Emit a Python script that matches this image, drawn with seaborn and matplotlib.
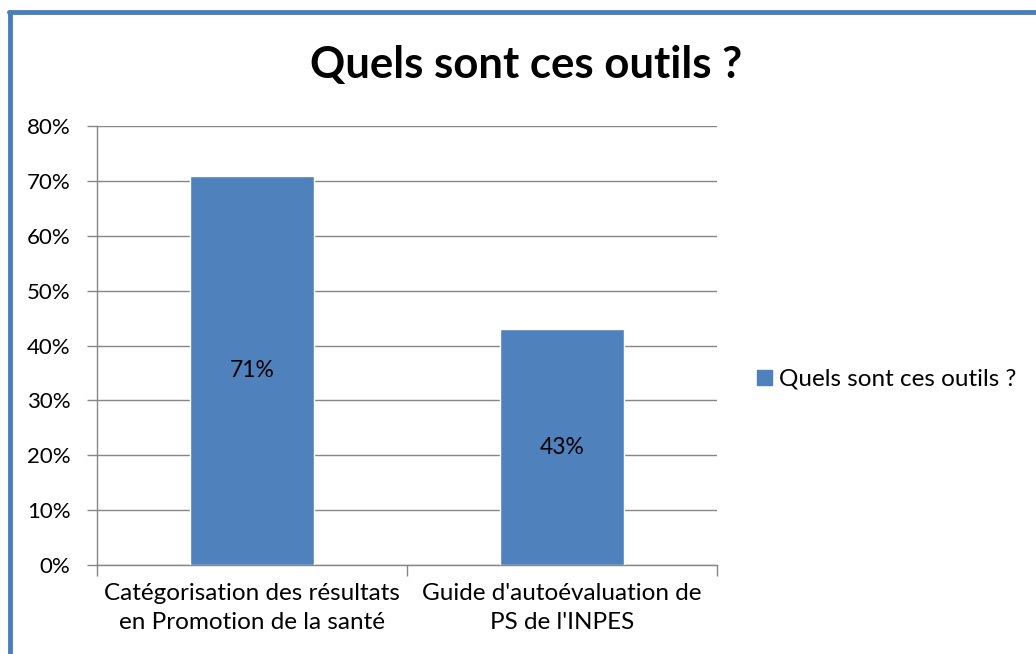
import matplotlib
matplotlib.use("Agg")
import matplotlib.pyplot as plt
import matplotlib.patches as mpatches
import seaborn as sns
import pandas as pd

# data
categories = ["Catégorisation des résultats\nen Promotion de la santé",
              "Guide d'autoévaluation de\nPS de l'INPES"]
values = [71, 43]
series_name = "Quels sont ces outils ?"
yticks = [0, 10, 20, 30, 40, 50, 60, 70, 80]

df = pd.DataFrame({"outil": categories, "pct": values})

sns.set_style("white")
plt.rcParams["font.family"] = ["Lato", "DejaVu Sans"]
plt.rcParams["text.color"] = "black"
plt.rcParams["xtick.color"] = "black"
plt.rcParams["ytick.color"] = "black"

bar_color = "#4F81BD"
grid_color = "#868686"

fig = plt.figure(figsize=(10.36, 6.54), dpi=100)
ax = fig.add_axes([0.0936, 0.136, 0.5985, 0.671])

sns.barplot(data=df, x="outil", y="pct", color=bar_color, width=0.4,
            saturation=1, ax=ax, zorder=3)

ax.set_ylim(0, 80)
ax.set_xlim(-0.5, 1.5)
ax.set_yticks(yticks)
ax.set_yticklabels([f"{t}%" for t in yticks], fontsize=16)
ax.set_xticks([0, 1])
ax.set_xticklabels(categories, fontsize=17.5, linespacing=1.45)
ax.set_xlabel("")
ax.set_ylabel("")

# gridlines
ax.yaxis.grid(True, color=grid_color, linewidth=1, zorder=0)
ax.xaxis.grid(False)
for side in ["top", "right"]:
    ax.spines[side].set_visible(False)
for side in ["left", "bottom"]:
    ax.spines[side].set_color(grid_color)
    ax.spines[side].set_linewidth(1)

ax.tick_params(axis="y", length=7, color=grid_color, width=1, pad=12, left=True,
               labelcolor="black")
ax.tick_params(axis="x", length=0, pad=13, labelcolor="black")
# category boundary ticks below the axis
ax.set_xticks([-0.5, 0.5, 1.5], minor=True)
ax.tick_params(axis="x", which="minor", length=8, color=grid_color, width=1, bottom=True)

# value labels in middle of bars
for i, v in enumerate(values):
    ax.text(i, v / 2, f"{v}%", ha="center", va="center", fontsize=16.5, color="black", zorder=4)

fig.suptitle(series_name, x=0.508, y=0.931, fontsize=31.5, fontweight="bold", color="black")

handle = mpatches.Patch(color=bar_color, label=series_name)
fig.legend(handles=[handle], loc="center left", bbox_to_anchor=(0.71, 0.42),
           frameon=False, fontsize=17.5, handlelength=0.6, handleheight=0.6,
           handletextpad=0.3)

# blue frame on left and top
fig.add_artist(plt.Line2D([0.0097, 0.0097], [0, 0.9817], color="#4A7EBB",
                          linewidth=3.5, transform=fig.transFigure))
fig.add_artist(plt.Line2D([0.0085, 1.0], [0.9817, 0.9817], color="#4A7EBB",
                          linewidth=3.5, transform=fig.transFigure))

fig.savefig("out.png", dpi=100)
